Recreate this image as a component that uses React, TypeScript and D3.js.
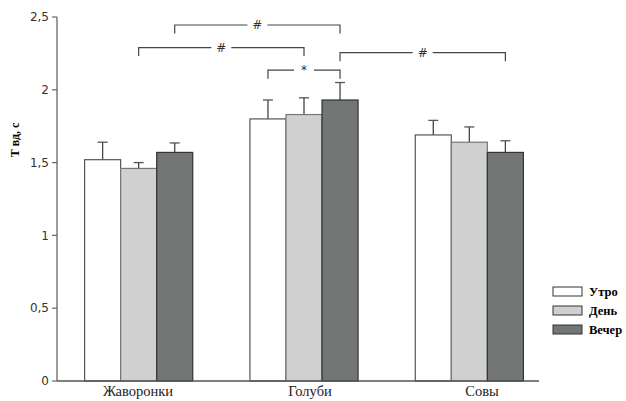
import { useRef, useEffect } from 'react';
import * as d3 from 'd3';

const categories = ['Жаворонки', 'Голуби', 'Совы'];
const series = ['Утро', 'День', 'Вечер'];
const means = [
  [1.52, 1.46, 1.57],
  [1.80, 1.83, 1.93],
  [1.69, 1.64, 1.57],
];
const errors = [
  [0.12, 0.04, 0.065],
  [0.13, 0.115, 0.12],
  [0.10, 0.105, 0.08],
];
const yTicks = [0, 0.5, 1, 1.5, 2, 2.5];
// significance brackets: [fromCat, fromSeries, toCat, toSeries, level, label]
const brackets: [number, number, number, number, number, string][] = [
  [0, 2, 1, 2, 2.445, '#'],
  [0, 1, 1, 1, 2.29, '#'],
  [1, 0, 1, 2, 2.135, '*'],
  [1, 2, 2, 2, 2.255, '#'],
];

const fills = ['#ffffff', '#d0d0d0', '#727675'];
const strokes = ['#555', '#777', '#333'];

function App() {
  const svgRef = useRef<SVGSVGElement>(null);
  const width = 626;
  const height = 401;

  useEffect(() => {
    const svg = d3.select(svgRef.current);
    svg.selectAll('*').remove();

    const y = d3.scaleLinear().domain([0, 2.5]).range([381, 17]);
    const x0 = d3.scaleBand().domain(categories).range([56, 552]).paddingInner(0.346).paddingOuter(0.173);
    const x1 = d3.scaleBand().domain(series).range([0, x0.bandwidth()]);
    const xLab = d3.scalePoint().domain(categories).range([138, 482]);
    const cx = (c: number, s: number) => x0(categories[c])! + x1(series[s])! + x1.bandwidth() / 2;

    // bars
    const groups = svg
      .selectAll('g.group')
      .data(categories)
      .enter()
      .append('g')
      .attr('class', 'group')
      .attr('transform', d => `translate(${x0(d)},0)`);

    groups.each(function (cat, ci) {
      const g = d3.select(this);
      series.forEach((s, si) => {
        const v = means[ci][si];
        const e = errors[ci][si];
        const bx = x1(s)! + x1.bandwidth() / 2;
        g.append('line')
          .attr('x1', bx).attr('x2', bx)
          .attr('y1', y(v)).attr('y2', y(v + e))
          .attr('stroke', '#444').attr('stroke-width', 1.3);
        g.append('line')
          .attr('x1', bx - 5).attr('x2', bx + 5)
          .attr('y1', y(v + e)).attr('y2', y(v + e))
          .attr('stroke', '#555').attr('stroke-width', 1.3);
        g.append('rect')
          .attr('x', x1(s)!)
          .attr('y', y(v))
          .attr('width', x1.bandwidth())
          .attr('height', y(0) - y(v))
          .attr('fill', fills[si])
          .attr('stroke', strokes[si])
          .attr('stroke-width', 1.2);
      });
    });

    // axes
    svg.append('line')
      .attr('x1', 57).attr('x2', 57).attr('y1', y(2.5)).attr('y2', y(0))
      .attr('stroke', '#666').attr('stroke-width', 1.3);
    svg.append('line')
      .attr('x1', 57).attr('x2', 539).attr('y1', y(0)).attr('y2', y(0))
      .attr('stroke', '#555').attr('stroke-width', 1.3);

    const tick = svg.selectAll('g.tick').data(yTicks).enter().append('g')
      .attr('class', 'tick')
      .attr('transform', d => `translate(57,${y(d)})`);
    tick.append('line').attr('x1', -5).attr('x2', 0).attr('stroke', '#666').attr('stroke-width', 1.2);
    tick.append('text')
      .attr('x', -8)
      .attr('dy', '0.35em')
      .attr('text-anchor', 'end')
      .style('font-family', 'DejaVu Sans, sans-serif')
      .style('font-size', 12)
      .style('fill', '#333')
      .text(d => String(d).replace('.', ','));

    svg.append('text')
      .attr('transform', 'translate(19,140) rotate(-90)')
      .attr('text-anchor', 'middle')
      .style('font-family', 'Liberation Serif, serif')
      .style('font-weight', 'bold')
      .style('font-size', 12)
      .text('Т вд, с');

    // x labels
    svg.selectAll('text.xlab').data(categories).enter().append('text')
      .attr('class', 'xlab')
      .attr('x', d => xLab(d)!)
      .attr('y', 396)
      .attr('text-anchor', 'middle')
      .style('font-family', 'Liberation Serif, serif')
      .style('font-size', 14.5)
      .style('fill', '#222')
      .text(d => d);

    // brackets
    brackets.forEach(([c1, s1, c2, s2, lvl, label]) => {
      const xa = cx(c1, s1);
      const xb = cx(c2, s2);
      const yl = y(lvl);
      const mid = (xa + xb) / 2;
      const gap = 10;
      svg.append('path')
        .attr('d', `M${xa},${yl + 8.5}V${yl}H${mid - gap}M${mid + gap},${yl}H${xb}V${yl + 8.5}`)
        .attr('fill', 'none')
        .attr('stroke', '#444')
        .attr('stroke-width', 1.2);
      svg.append('text')
        .attr('x', mid)
        .attr('y', yl + 4)
        .attr('text-anchor', 'middle')
        .style('font-family', 'DejaVu Sans, sans-serif')
        .style('font-size', 12)
        .style('fill', '#333')
        .text(label);
    });

    // legend
    const legend = svg.selectAll('g.legend').data(series).enter().append('g')
      .attr('class', 'legend')
      .attr('transform', (d, i) => `translate(553,${292 + i * 19})`);
    legend.append('rect')
      .attr('x', 0).attr('y', -5)
      .attr('width', 29).attr('height', 9)
      .attr('fill', (d, i) => fills[i])
      .attr('stroke', '#333')
      .attr('stroke-width', 1);
    legend.append('text')
      .attr('x', 36)
      .attr('dy', '0.35em')
      .style('font-family', 'Liberation Serif, serif')
      .style('font-weight', 'bold')
      .style('font-size', 12.5)
      .text(d => d);
  }, []);

  return (
    <svg
      ref={svgRef}
      width={width}
      height={height}
      style={{ position: 'absolute', left: 0, top: 0, background: '#fff' }}
    />
  );
}

export default App;
